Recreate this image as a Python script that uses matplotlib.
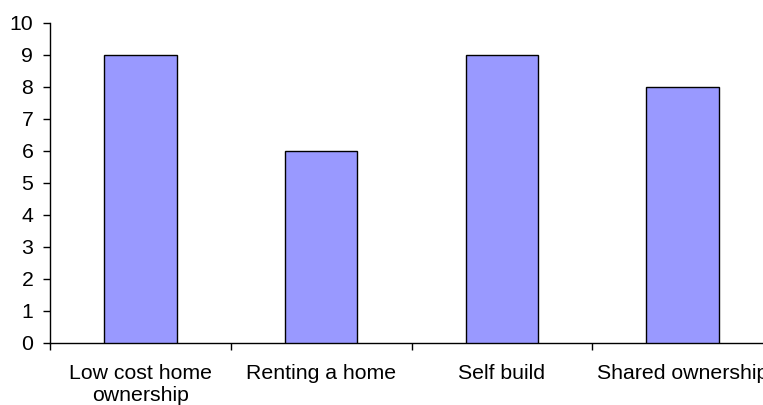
import matplotlib
matplotlib.use("Agg")
import matplotlib.pyplot as plt
from matplotlib.ticker import FixedLocator

categories = ["Low cost home\nownership", "Renting a home", "Self build", "Shared ownership"]
values = [9, 6, 9, 8]
y_ticks = list(range(0, 11))

plt.rcParams["font.family"] = ["Liberation Sans", "DejaVu Sans"]

W, H = 763, 405
fig = plt.figure(figsize=(W / 100, H / 100), dpi=100)
ax = fig.add_axes([50 / W, 62 / H, 723 / W, 320 / H])

x = list(range(len(categories)))
ax.bar(x, values, width=0.4, color="#9999FF", edgecolor="black", linewidth=1.0, zorder=3)

ax.set_xlim(-0.5, len(categories) - 0.5)
ax.set_ylim(0, 10)
ax.set_yticks(y_ticks)
ax.set_xticks(x)
ax.set_xticklabels(categories, fontsize=15.3, linespacing=1.22)
ax.xaxis.set_minor_locator(FixedLocator([i - 0.5 for i in range(len(categories) + 1)]))
ax.tick_params(axis="x", which="major", length=0, pad=15)
ax.tick_params(axis="x", which="minor", length=5, width=1, direction="out")
ax.tick_params(axis="y", labelsize=15.3, length=5, width=1, direction="out", pad=7)

for side in ("top", "right"):
    ax.spines[side].set_visible(False)
for side in ("left", "bottom"):
    ax.spines[side].set_linewidth(1.0)

fig.savefig("out.png", dpi=100)
